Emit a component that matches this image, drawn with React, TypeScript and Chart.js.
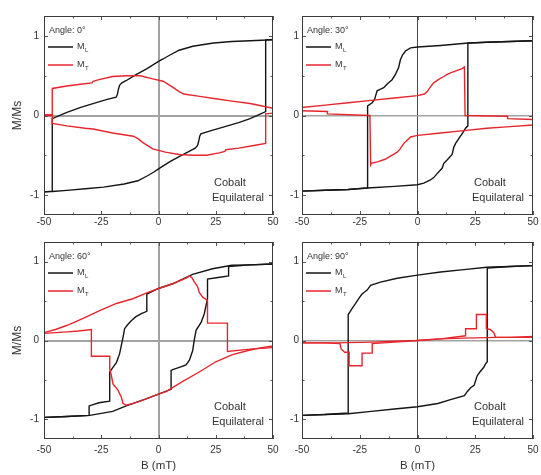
import React, { useEffect, useRef } from 'react';
import { Chart, registerables } from 'chart.js';

Chart.register(...registerables);

// ---------- data ----------
const xTicks = [-50, -25, 0, 25, 50];
const xMinorTicks = [-37.5, -12.5, 12.5, 37.5];
const yTicks = [-1, 0, 1];
const yMinorTicks = [-0.5, 0.5];
const angleLabels = ['Angle: 0°', 'Angle: 30°', 'Angle: 60°', 'Angle: 90°'];
const seriesNames = ['M', 'M'];
const seriesSubs = ['L', 'T'];
const noteLines = ['Cobalt', 'Equilateral'];
const xTitle = 'B (mT)';
const yTitle = 'M/Ms';

// Panel 1 : angle 0
const p1BlackDown = [[50,0.95],[45,0.945],[40,0.94],[32,0.93],[24,0.91],[15,0.87],[9,0.82],[5,0.76],[2,0.71],[0,0.68],[-5,0.59],[-10,0.51],[-14,0.44],[-16,0.41],[-17,0.38],[-17.5,0.33],[-18,0.26],[-18.5,0.23],[-22.8,0.2],[-28.6,0.15],[-34.3,0.1],[-40,0.04],[-46.4,-0.04],[-46.4,-0.95],[-50,-0.96]];
const p1BlackUp = [[-50,-0.96],[-46.4,-0.955],[-40,-0.94],[-32,-0.92],[-24,-0.9],[-15,-0.86],[-9,-0.82],[-5,-0.76],[-2,-0.71],[0,-0.67],[5,-0.58],[10,-0.5],[14,-0.44],[16,-0.41],[17,-0.38],[17.5,-0.33],[18,-0.26],[18.5,-0.23],[23,-0.19],[29,-0.14],[35,-0.09],[40,-0.04],[46.8,0.05],[46.8,0.95],[50,0.955]];
const p1RedDown = [[50,0.09],[46.8,0.11],[40,0.15],[32,0.18],[25,0.21],[18,0.24],[11,0.27],[9,0.3],[6,0.36],[2,0.43],[-2.5,0.46],[-8,0.5],[-14,0.5],[-20,0.49],[-26,0.45],[-28.6,0.43],[-29,0.41],[-35,0.39],[-40,0.37],[-46.4,0.34],[-46.4,0.01],[-50,0.01]];
const p1RedUp = [[-50,0.0],[-46.4,0.0],[-46.4,-0.1],[-40,-0.13],[-32,-0.16],[-28.6,-0.17],[-20,-0.22],[-11,-0.26],[-9,-0.29],[-6.8,-0.34],[-2.5,-0.42],[3,-0.46],[9,-0.49],[15,-0.5],[21,-0.5],[26.5,-0.47],[29,-0.45],[29.4,-0.43],[35,-0.41],[41,-0.38],[46.8,-0.35],[46.8,0.02],[50,0.03]];

// Panel 2 : angle 30
const p2BlackDown = [[50,0.94],[40,0.93],[30,0.92],[22,0.91],[10,0.88],[0,0.86],[-3,0.85],[-5.2,0.81],[-6.5,0.76],[-7.4,0.7],[-8.2,0.6],[-9.5,0.52],[-11,0.45],[-13,0.4],[-14.6,0.35],[-16,0.33],[-17.5,0.31],[-18.2,0.24],[-18.6,0.2],[-19.6,0.16],[-21.6,0.12],[-21.6,-0.91],[-30,-0.93],[-40,-0.94],[-50,-0.95]];
const p2BlackUp = [[-50,-0.95],[-40,-0.94],[-30,-0.93],[-21.6,-0.91],[-10,-0.89],[0,-0.87],[2.7,-0.85],[5.6,-0.81],[7,-0.78],[8.5,-0.73],[10.7,-0.66],[11.4,-0.6],[12.8,-0.56],[15,-0.49],[15.7,-0.4],[16.5,-0.35],[18.6,-0.26],[20,-0.2],[20.8,-0.16],[21.8,-0.13],[21.8,0.91],[30,0.92],[40,0.93],[50,0.94]];
const p2RedDown = [[50,-0.12],[40,-0.14],[30,-0.16],[20,-0.19],[10,-0.22],[0,-0.25],[-3,-0.27],[-4.5,-0.31],[-5.9,-0.35],[-7.5,-0.42],[-8.8,-0.46],[-11.7,-0.51],[-14,-0.55],[-17,-0.58],[-20,-0.6],[-20.3,-0.62],[-20.6,0.0],[-39,0.02],[-39,0.05],[-50,0.06]];
const p2RedUp = [[-50,0.1],[-40,0.13],[-30,0.16],[-20,0.19],[-10,0.22],[0,0.25],[3,0.27],[4.2,0.3],[5.6,0.36],[7,0.41],[9,0.45],[11.4,0.49],[13,0.52],[15.7,0.55],[19.3,0.59],[20.3,0.61],[20.6,0.0],[39,-0.01],[39,-0.04],[50,-0.05]];

// Panel 3 : angle 60
const p3BlackDown = [[50,0.97],[40,0.96],[32,0.955],[23.6,0.91],[14.9,0.84],[6.2,0.72],[0,0.66],[-5.1,0.59],[-5.1,0.37],[-7.5,0.34],[-10,0.3],[-11.9,0.25],[-13.5,0.2],[-14.8,0.15],[-15.5,0.04],[-16.2,-0.06],[-17,-0.17],[-18.4,-0.28],[-19.9,-0.34],[-21.3,-0.4],[-21.3,-0.77],[-26,-0.79],[-30.3,-0.83],[-30.3,-0.95],[-40,-0.965],[-50,-0.975]];
const p3BlackUp = [[-50,-0.975],[-40,-0.965],[-30,-0.95],[-20,-0.9],[-14.1,-0.83],[-5.4,-0.74],[0,-0.68],[5.5,-0.62],[5.5,-0.38],[6.2,-0.37],[9.1,-0.34],[12,-0.31],[13.5,-0.25],[14.9,-0.13],[15.7,0.02],[16.4,0.13],[18.6,0.23],[20,0.34],[21.4,0.53],[21.4,0.78],[26,0.8],[30.6,0.82],[30.6,0.94],[40,0.96],[50,0.97]];
const p3RedDown = [[50,-0.07],[45,-0.09],[40,-0.12],[32.3,-0.18],[25,-0.27],[17.8,-0.4],[10.6,-0.52],[3.3,-0.65],[0,-0.68],[-5.4,-0.74],[-11.2,-0.8],[-14.1,-0.82],[-15.5,-0.8],[-16.2,-0.72],[-17.7,-0.63],[-19.9,-0.55],[-20.6,-0.44],[-21.3,-0.36],[-21.3,-0.2],[-29.3,-0.2],[-29.3,0.14],[-35,0.12],[-40,0.11],[-50,0.09]];
const p3RedUp = [[-50,0.1],[-45,0.14],[-40.1,0.19],[-32.9,0.28],[-25.7,0.38],[-18.4,0.47],[-11.2,0.53],[-5.4,0.6],[0,0.66],[6.2,0.72],[12,0.79],[13.5,0.82],[14.5,0.8],[15.7,0.74],[17.1,0.68],[17.8,0.61],[19.3,0.55],[21.4,0.51],[21.4,0.22],[30.1,0.22],[30.1,-0.14],[40,-0.11],[50,-0.09]];

// Panel 4 : angle 90
const p4BlackDown = [[50,0.95],[40,0.94],[30,0.93],[20,0.9],[10,0.87],[0,0.83],[-8.8,0.79],[-16,0.74],[-20.3,0.7],[-21.8,0.64],[-23.2,0.61],[-24,0.59],[-25,0.55],[-26.8,0.47],[-28,0.42],[-29.3,0.36],[-30,0.33],[-30,-0.92],[-40,-0.94],[-50,-0.95]];
const p4BlackUp = [[-50,-0.95],[-40,-0.94],[-30,-0.93],[-20,-0.9],[-10,-0.87],[0,-0.84],[8.8,-0.8],[14.3,-0.75],[20.3,-0.7],[21.5,-0.65],[23,-0.6],[24.5,-0.57],[25.8,-0.45],[27,-0.4],[28.7,-0.34],[29.4,-0.3],[30.2,-0.27],[30.2,0.92],[40,0.94],[50,0.95]];
const p4RedDown = [[50,0.04],[35,0.04],[20,0.03],[10,0.02],[0,0.0],[-10,-0.02],[-19.6,-0.04],[-19.6,-0.16],[-24,-0.16],[-24,-0.32],[-29.6,-0.32],[-29.6,-0.15],[-31.5,-0.15],[-33,-0.11],[-33.6,-0.04],[-40,-0.03],[-50,-0.03]];
const p4RedUp = [[-50,-0.03],[-35,-0.03],[-20,-0.02],[-10,-0.01],[0,0.0],[10,0.02],[20.8,0.06],[20.8,0.15],[25.5,0.15],[25.5,0.33],[29.8,0.33],[29.8,0.15],[31.5,0.14],[33,0.1],[33.8,0.04],[40,0.04],[50,0.05]];

const panelSeries = [
  { black: [p1BlackDown, p1BlackUp], red: [p1RedDown, p1RedUp] },
  { black: [p2BlackDown, p2BlackUp], red: [p2RedDown, p2RedUp] },
  { black: [p3BlackDown, p3BlackUp], red: [p3RedDown, p3RedUp] },
  { black: [p4BlackDown, p4BlackUp], red: [p4RedDown, p4RedUp] },
];

// ---------- layout / style ----------
const W = 541;
const H = 475;
const AREAS = [
  { l: 44, t: 16, r: 273, b: 215 },
  { l: 302, t: 16, r: 533, b: 215 },
  { l: 44, t: 242, r: 273, b: 439 },
  { l: 302, t: 242, r: 533, b: 439 },
];
const FONT = '"Liberation Sans", Arial, Helvetica, sans-serif';
const BLACK = '#151515';
const RED = '#e6262c';
const TEXT = '#333333';
const CLEAR = 'rgba(0,0,0,0)';

function decorPlugin(idx: number) {
  return {
    id: 'decor' + idx,
    afterDatasetsDraw(chart: any) {
      const { ctx, chartArea: a, scales } = chart;
      const x = scales.x;
      const y = scales.y;
      ctx.save();
      // inward ticks
      ctx.strokeStyle = '#555';
      ctx.lineWidth = 1;
      ctx.beginPath();
      const vt = (vals: number[], len: number) => {
        vals.forEach((v) => {
          const px = Math.round(x.getPixelForValue(v)) + 0.5;
          ctx.moveTo(px, a.bottom);
          ctx.lineTo(px, a.bottom - len);
          ctx.moveTo(px, a.top);
          ctx.lineTo(px, a.top + len);
        });
      };
      const ht = (vals: number[], len: number) => {
        vals.forEach((v) => {
          const py = Math.round(y.getPixelForValue(v)) + 0.5;
          ctx.moveTo(a.left, py);
          ctx.lineTo(a.left + len, py);
          ctx.moveTo(a.right, py);
          ctx.lineTo(a.right - len, py);
        });
      };
      vt(xTicks, 4);
      vt(xMinorTicks, 2.5);
      ht(yTicks, 4);
      ht(yMinorTicks, 2.5);
      ctx.stroke();
      // frame
      ctx.strokeStyle = '#3a3a3a';
      ctx.lineWidth = 1;
      ctx.strokeRect(a.left + 0.5, a.top + 0.5, a.right - a.left - 1, a.bottom - a.top - 1);

      // legend
      ctx.fillStyle = TEXT;
      ctx.textBaseline = 'middle';
      ctx.textAlign = 'left';
      ctx.font = '9px ' + FONT;
      ctx.fillText(angleLabels[idx], a.left + 5, a.top + 15);
      const rows = [
        { color: BLACK, y: a.top + 31 },
        { color: RED, y: a.top + 49 },
      ];
      rows.forEach((r, i) => {
        ctx.strokeStyle = r.color;
        ctx.lineWidth = 1.5;
        ctx.beginPath();
        ctx.moveTo(a.left + 4, r.y);
        ctx.lineTo(a.left + 29, r.y);
        ctx.stroke();
        ctx.fillStyle = TEXT;
        ctx.font = '9px ' + FONT;
        ctx.fillText(seriesNames[i], a.left + 33, r.y);
        ctx.font = '6px ' + FONT;
        ctx.fillText(seriesSubs[i], a.left + 41, r.y + 3);
      });

      // note
      ctx.font = '11px ' + FONT;
      ctx.fillStyle = TEXT;
      ctx.fillText(noteLines[0], a.right - 59, a.bottom - 32);
      ctx.fillText(noteLines[1], a.right - 61, a.bottom - 17);
      ctx.restore();
    },
  };
}

function buildConfig(idx: number): any {
  const area = AREAS[idx];
  const isLeft = idx % 2 === 0;
  const isBottom = idx >= 2;
  const yW = isLeft ? area.l - 10 : 24;
  const padLeft = area.l - yW;
  const xH = isBottom ? 34 : 20;
  const padBottom = H - area.b - xH;
  const thick = isLeft; // panels 1 & 3 have heavy grey zero lines
  const s = panelSeries[idx];
  const toPts = (arr: number[][]) => arr.map(([bx, my]) => ({ x: bx, y: my }));
  const mk = (arr: number[][], color: string) => ({
    data: toPts(arr),
    showLine: true,
    borderColor: color,
    backgroundColor: color,
    borderWidth: 1.4,
    pointRadius: 0,
    tension: 0,
    fill: false,
  });
  return {
    type: 'scatter',
    data: {
      datasets: [mk(s.red[0], RED), mk(s.red[1], RED), mk(s.black[0], BLACK), mk(s.black[1], BLACK)],
    },
    options: {
      responsive: false,
      maintainAspectRatio: false,
      animation: false,
      events: [],
      layout: { padding: { left: padLeft, top: area.t, right: W - area.r, bottom: padBottom } },
      plugins: { legend: { display: false }, tooltip: { enabled: false }, title: { display: false } },
      scales: {
        x: {
          type: 'linear',
          min: -50,
          max: 50,
          afterBuildTicks: (sc: any) => {
            sc.ticks = xTicks.map((v) => ({ value: v }));
          },
          afterFit: (sc: any) => {
            sc.height = xH;
          },
          ticks: {
            autoSkip: false,
            maxRotation: 0,
            padding: 0,
            color: TEXT,
            font: { size: 10, family: FONT },
          },
          grid: {
            drawTicks: true,
            tickLength: isBottom ? 5 : 1,
            tickColor: CLEAR,
            color: (c: any) => (c.tick && c.tick.value === 0 ? (thick ? '#a3a3a3' : '#4a4a4a') : CLEAR),
            lineWidth: (c: any) => (c.tick && c.tick.value === 0 ? (thick ? 2 : 1) : 0),
          },
          border: { display: false },
          title: {
            display: isBottom,
            text: xTitle,
            padding: 0,
            color: TEXT,
            font: { size: 11.5, family: FONT },
          },
        },
        y: {
          type: 'linear',
          min: -1.25,
          max: 1.25,
          afterBuildTicks: (sc: any) => {
            sc.ticks = yTicks.map((v) => ({ value: v }));
          },
          afterFit: (sc: any) => {
            sc.width = yW;
          },
          ticks: {
            autoSkip: false,
            padding: isLeft ? 5 : 3,
            color: TEXT,
            font: { size: 10, family: FONT },
          },
          grid: {
            drawTicks: false,
            color: (c: any) => (c.tick && c.tick.value === 0 ? '#a3a3a3' : CLEAR),
            lineWidth: (c: any) => (c.tick && c.tick.value === 0 ? (thick ? 2 : 1.6) : 0),
          },
          border: { display: false },
          title: {
            display: isLeft,
            text: yTitle,
            padding: 0,
            color: TEXT,
            font: { size: 12, family: FONT },
          },
        },
      },
    },
    plugins: [decorPlugin(idx)],
  };
}

function Panel({ idx }: { idx: number }) {
  const ref = useRef<HTMLCanvasElement | null>(null);
  useEffect(() => {
    if (!ref.current) return;
    const chart = new Chart(ref.current, buildConfig(idx));
    return () => chart.destroy();
  }, [idx]);
  return (
    <canvas
      ref={ref}
      width={W}
      height={H}
      style={{ position: 'absolute', left: 0, top: 0, width: W, height: H }}
    />
  );
}

export default function App() {
  return (
    <div style={{ position: 'absolute', left: 0, top: 0, width: W, height: H, background: '#fff' }}>
      {[0, 1, 2, 3].map((i) => (
        <Panel key={i} idx={i} />
      ))}
    </div>
  );
}
